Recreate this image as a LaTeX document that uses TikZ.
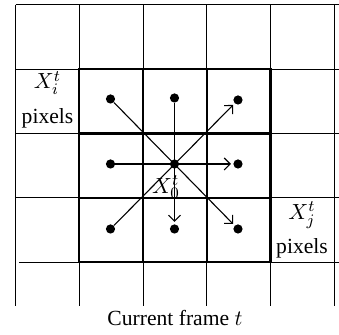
\documentclass[tikz,border=0pt]{standalone}
\usepackage{fontspec}
\setmainfont{Liberation Serif}
\usetikzlibrary{arrows.meta, positioning}

\begin{document}
\begin{tikzpicture}[
    x=0.5pt, y=-0.5pt,
    thin line/.style={line width=0.5pt},
    thick line/.style={line width=1.1pt},
    pixel/.style={circle, fill=black, inner sep=0pt, minimum size=4.6pt},
    vector/.style={line width=0.55pt, -{Straight Barb[length=3pt, width=6pt]}, shorten >=1pt},
    label text/.style={align=center, inner sep=1pt, font=\fontsize{10.8}{13}\selectfont}
]
    \useasboundingbox (0,0) rectangle (339,335);

    % Pixel grid of the current frame
    \foreach \x in {15.7, 79.4, 143.1, 206.8, 270.5, 334.2}
        \draw[thin line] (\x,4.7) -- (\x,306);
    \foreach \y in {4.7, 69.1, 133.5, 197.9}
        \draw[thin line] (15.7,\y) -- (339,\y);
    \draw[thin line] (19,262.3) -- (339,262.3);

    % 3x3 neighbourhood
    \draw[thick line] (79.4,69.1) rectangle (270.5,262.3);
    \draw[thick line] (143.1,69.1) -- (143.1,262.3);
    \draw[thick line] (206.8,69.1) -- (206.8,262.3);
    \draw[thick line] (79.4,133.5) -- (270.5,133.5);
    \draw[thick line] (79.4,197.9) -- (270.5,197.9);

    % Pixel centres
    \node (tl) [pixel] at (110.5,99) {};
    \node (tc) [pixel] at (174.5,98) {};
    \node (tr) [pixel] at (238,100) {};
    \node (ml) [pixel] at (110.5,164) {};
    \node (mc) [pixel] at (174.5,164) {};
    \node (mr) [pixel] at (238,164) {};
    \node (bl) [pixel] at (110.5,229) {};
    \node (bc) [pixel] at (174.5,229) {};
    \node (br) [pixel] at (238,229) {};

    % Labels
    \node (xi) [label text] at (47.5,83) {$X_i^t$};
    \node (xipix) [label text] at (47.5,118) {pixels};
    \node (x0) [label text] at (166,187) {$X_0^t$};
    \node (xj) [label text] at (302,215) {$X_j^t$};
    \node (xjpix) [label text] at (302,248) {pixels};
    \node (caption) [label text] at (175,318) {Current frame $t$};

    % Directions through the centre pixel
    \draw[vector] (tl) -- (br);
    \draw[vector] (bl) -- (tr);
    \draw[vector] (ml) -- (mr);
    \draw[vector] (tc) -- (bc);
\end{tikzpicture}
\end{document}
